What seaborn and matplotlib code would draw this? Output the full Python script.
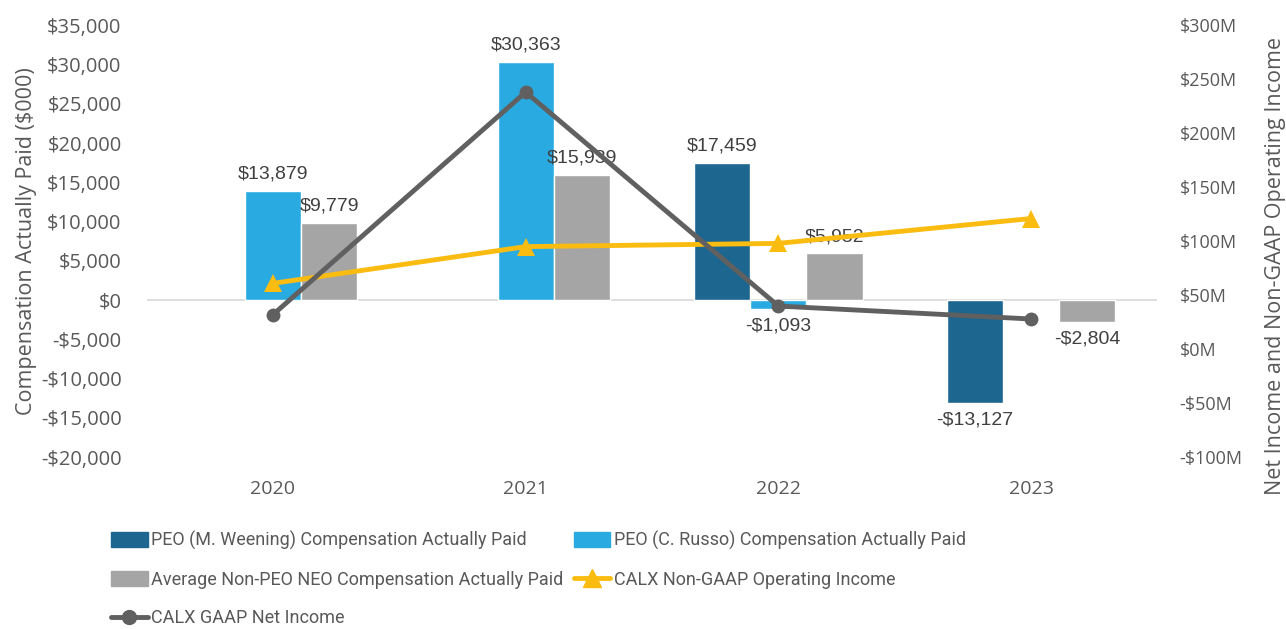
import numpy as np
import pandas as pd
import matplotlib
matplotlib.use("Agg")
import matplotlib.pyplot as plt
import seaborn as sns
from matplotlib.ticker import FuncFormatter
from matplotlib.lines import Line2D
from matplotlib.patches import Patch

# compensation actually paid ($000)
years = ["2020", "2021", "2022", "2023"]
weening_cap = [np.nan, np.nan, 17459, -13127]
russo_cap = [13879, 30363, -1093, np.nan]
neo_avg_cap = [9779, 15939, 5952, -2804]

# income lines ($M)
non_gaap_op_income = [61, 95, 98, 121]
gaap_net_income = [32, 238, 40, 28]

bar_names = ["PEO (M. Weening) Compensation Actually Paid",
             "PEO (C. Russo) Compensation Actually Paid",
             "Average Non-PEO NEO Compensation Actually Paid"]
line_names = ["CALX Non-GAAP Operating Income", "CALX GAAP Net Income"]
bar_colors = ["#1c6690", "#29abe2", "#a5a5a5"]
yellow = "#fbbc12"
dark_gray = "#606060"

sns.set_style("white")
plt.rcParams["font.family"] = ["Open Sans", "DejaVu Sans"]
txt = "#595959"

df = pd.DataFrame({"year": years * 3,
                   "series": np.repeat(bar_names, len(years)),
                   "value": weening_cap + russo_cap + neo_avg_cap}).dropna()

fig = plt.figure(figsize=(12.86, 6.29), dpi=100)
ax = fig.add_axes([0.114, 0.273, 0.786, 0.687])

sns.barplot(data=df, x="year", y="value", hue="series", order=years,
            hue_order=bar_names, palette=bar_colors, width=0.667,
            errorbar=None, saturation=1, ax=ax, legend=False)

def money(v):
    s = f"${abs(v):,.0f}"
    return "-" + s if v < 0 else s

for cont in ax.containers:
    ax.bar_label(cont, fmt=money, padding=6, fontsize=14,
                 color="#404040", family="Liberation Sans")

ax.axhline(0, color="#d9d9d9", lw=1.2, zorder=0)
ax.set_ylim(-20000, 35000)
ax.set_yticks(np.arange(-20000, 35001, 5000))
ax.yaxis.set_major_formatter(FuncFormatter(lambda v, p: money(v)))
ax.set_xlim(-0.5, 3.5)
ax.set_xlabel("")
ax.set_ylabel("Compensation Actually Paid ($000)", fontsize=15.5, color=txt)
ax.yaxis.set_label_coords(-0.108, 0.5)
ax.tick_params(axis="y", labelsize=14.5, colors=txt, length=0, pad=18)
ax.tick_params(axis="x", labelsize=14, colors=txt, length=0, pad=16)
sns.despine(ax=ax, left=True, bottom=True)

ax2 = ax.twinx()
xs = np.arange(len(years))
sns.lineplot(x=xs, y=non_gaap_op_income, ax=ax2, color=yellow, lw=3.5,
             marker="^", markersize=13, markeredgewidth=0)
sns.lineplot(x=xs, y=gaap_net_income, ax=ax2, color=dark_gray, lw=3.5,
             marker="o", markersize=10, markeredgewidth=0)
ax2.set_ylim(-100, 300)
ax2.set_yticks(np.arange(-100, 301, 50))
ax2.yaxis.set_major_formatter(FuncFormatter(
    lambda v, p: f"-${abs(v):.0f}M" if v < 0 else f"${v:.0f}M"))
ax2.tick_params(axis="y", labelsize=13, colors=txt, length=0, pad=16)
ax2.set_ylabel("Net Income and Non-GAAP Operating Income", fontsize=15.5,
               color=txt)
ax2.yaxis.set_label_coords(1.106, 0.442)
ax2.set_xlim(-0.5, 3.5)
sns.despine(ax=ax2, left=True, bottom=True, right=True)

handles = [Patch(color=bar_colors[0], label=bar_names[0]),
           Patch(color=bar_colors[2], label=bar_names[2]),
           Line2D([], [], color=dark_gray, lw=3.5, marker="o", markersize=10,
                  label=line_names[1]),
           Patch(color=bar_colors[1], label=bar_names[1]),
           Line2D([], [], color=yellow, lw=3.5, marker="^", markersize=13,
                  label=line_names[0])]
fig.legend(handles=handles, ncol=2, loc="upper left",
           bbox_to_anchor=(0.074, 0.182), frameon=False,
           labelcolor=txt, handlelength=2.0, handleheight=0.9,
           handletextpad=0.2, columnspacing=0.6, labelspacing=1.15,
           prop={"family": ["Roboto", "DejaVu Sans"], "size": 13})

fig.savefig("out.png", dpi=100)
